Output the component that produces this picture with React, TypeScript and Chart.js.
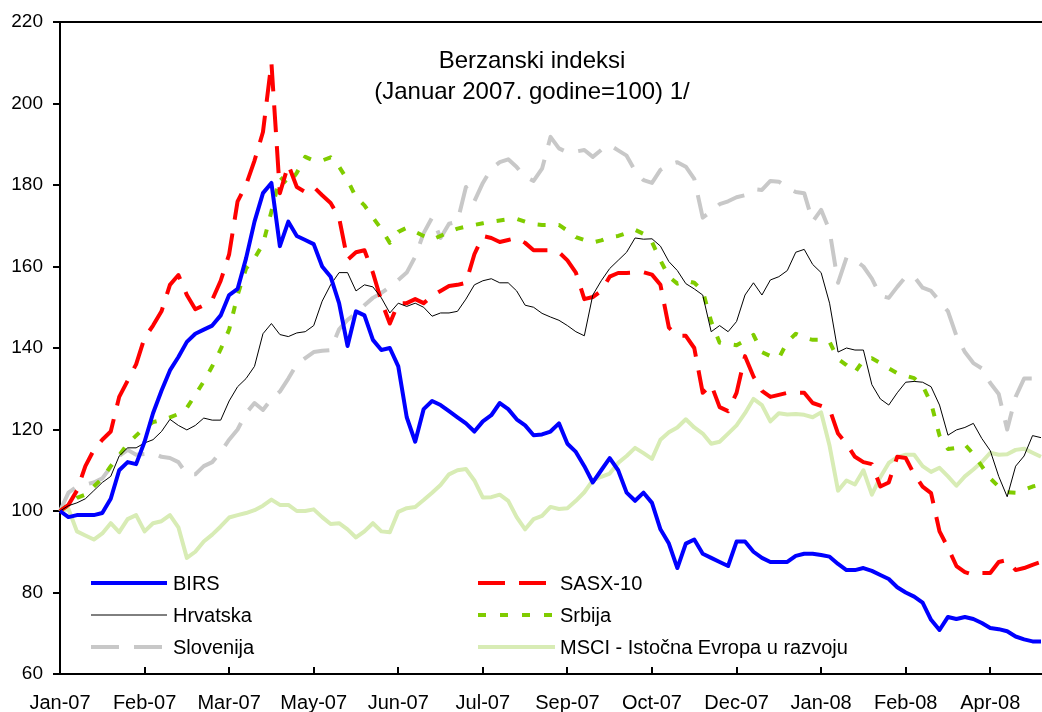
import React, { useEffect, useRef } from 'react';
import { Chart, registerables } from 'chart.js';

Chart.register(...registerables);

const tickLabels = ['Jan-07', 'Feb-07', 'Mar-07', 'May-07', 'Jun-07', 'Jul-07', 'Sep-07', 'Oct-07', 'Dec-07', 'Jan-08', 'Feb-08', 'Apr-08'];

const birs = [100, 98.5, 99, 99, 99, 99.5, 103, 110, 112, 111.5, 117, 124, 129.5, 134.5, 137.8, 141.5, 143.5, 144.5, 145.5, 148,
  153, 154.5, 162, 171, 178, 180.5, 165, 171, 167.5, 166.5, 165.5, 160, 157.5, 151, 140.5, 149, 148, 142, 139.5, 140,
  135.5, 123, 117, 125, 127, 126, 124.5, 123, 121.5, 119.5, 122, 123.5, 126.5, 125, 122.5, 121, 118.6, 118.8, 119.5, 121.5,
  116.5, 114.5, 111, 107, 110, 113, 110, 104.5, 102.5, 104.5, 102, 95.5, 92, 86, 92, 93, 89.5, 88.5, 87.5, 86.5,
  92.5, 92.5, 90, 88.5, 87.5, 87.5, 87.5, 89, 89.5, 89.5, 89.2, 88.8, 87, 85.5, 85.5, 86, 85.3, 84.3, 83.3, 81.3,
  80, 79, 77.5, 73.3, 70.8, 74, 73.5, 74, 73.5, 72.5, 71.3, 71, 70.5, 69.2, 68.5, 68, 68];

const sasx = [100, 101.5, 105, 111, 115, 117.5, 119.5, 128, 132, 136, 142.5, 145.5, 149, 155.5, 157.9, 153, 149.5, 150.5, 151.8, 156.5,
  163, 176, 180, 186, 193, 210, 178, 185, 179.5, 178.3, 179.5, 177.5, 175.6, 172, 161.6, 163.5, 164, 158.5, 151.5, 146,
  151, 151, 152, 151, 152.8, 154, 155.2, 155.5, 156, 163, 167.5, 167, 166, 166.5, 167, 165.8, 164, 164, 164, 163.5,
  161.5, 158.5, 152, 152.5, 154, 157.5, 158.4, 158.4, 158.5, 158.6, 158, 155.5, 145, 143, 143, 140, 129, 131, 125.5, 124.5,
  129, 138, 133, 129.5, 128, 128.5, 129, 129, 129, 126.5, 125.8, 125, 119, 116.5, 113.3, 112, 111.5, 106, 107, 113.3,
  113, 109, 106, 104.4, 95, 91, 86.5, 85, 84.3, 84.8, 84.8, 87.5, 88, 85.5, 86, 86.8, 87.5];

const hrvatska = [100, 101.3, 102, 103, 105, 107, 108.5, 113.5, 115.5, 115.5, 116.7, 117.5, 119.5, 122.5, 121, 119.9, 121, 122.8, 122.3, 122.3,
  127, 130.5, 132.5, 135.5, 143.5, 146, 143.3, 142.8, 143.7, 144, 145.5, 151.5, 155.5, 158.5, 158.5, 154, 155.5, 155, 152.3, 148.6,
  151, 150.2, 151, 150, 147.8, 148.6, 148.6, 149, 152, 155.5, 156.5, 157, 156, 156, 154, 150.5, 150, 148.5, 147.6, 146.8,
  145.5, 144, 143, 153, 156.5, 159.5, 161.5, 163.5, 167, 166.7, 166.8, 165, 161.2, 159, 155.8, 154.5, 153, 144, 145.5, 144,
  146.5, 153, 156, 153, 156.7, 157.5, 159, 163.5, 164.2, 160.5, 158.5, 151, 139, 140, 139.5, 139.5, 131, 127.5, 126, 129,
  131.6, 131.8, 131.6, 130.5, 126, 118.6, 119.9, 120.5, 121.5, 117.8, 114.8, 108.5, 103.5, 111, 113.5, 118.5, 118];

const srbija = [100, 101.5, 103.2, 104, 106, 108, 111, 113.7, 116.5, 118.5, 120.5, 121.8, 122.3, 123, 123.8, 125.3, 128.5, 131.8, 135.5, 139.7,
  144.5, 153, 159.5, 162, 165.5, 173.5, 182, 180, 183, 186.9, 186, 186, 186.8, 184.5, 181.2, 177, 175, 172, 169.2, 165.8,
  168.5, 169.5, 168.5, 167.5, 166.6, 167.5, 168.5, 169.3, 169.8, 170.2, 170.6, 171, 171.3, 171.6, 171.7, 171, 170.4, 170.2, 170.2, 170.2,
  168.8, 167.2, 166.5, 165.9, 166.4, 167.2, 167.5, 168.2, 169, 168, 166, 161.5, 157.5, 155.8, 156.5, 156, 154, 146.5, 141.3, 141,
  140.7, 141.8, 143.2, 139, 138, 137.5, 141.5, 143.5, 142.5, 142, 142, 141.5, 137.3, 135.8, 134, 137, 137.5, 136.3, 135, 133.8,
  133.2, 132.6, 130.8, 126.5, 118.5, 115.2, 115.5, 116.3, 114, 111, 108, 106, 104.6, 104.5, 105.2, 106, 106.5];

const slovenija = [100, 104.5, 106, 106.5, 107, 108, 110.8, 113.5, 115, 113.8, 114, 114.2, 113.3, 113, 112, 109, 109, 111, 112, 114.5,
  117.5, 120, 124, 126.5, 124.8, 127.5, 129.3, 132.5, 136, 137.5, 139, 139.3, 139.5, 144.6, 146.9, 148.5, 150.5, 152.3, 153.5, 155,
  156.7, 158.5, 162.4, 168.2, 172, 167, 170.5, 171, 179.5, 176, 180.5, 184, 185.6, 186.3, 184.4, 182, 181, 184, 191.8, 189,
  188, 188.2, 188.6, 186.9, 188.6, 189.8, 188.5, 187.2, 183.5, 181.2, 180.5, 183.7, 185, 185.6, 184.5, 181.5, 172, 173.5, 175.3, 176,
  177, 177.5, 179, 178.8, 181, 180.8, 179.3, 178.3, 178, 171, 173.9, 168.8, 156, 162.2, 161.6, 160, 157, 152.8, 152.3, 155,
  157.5, 157.5, 154.8, 154, 151.5, 149, 143, 139, 136.3, 135, 131.4, 128.7, 120, 128, 132.5, 132.5, 133.5];

const msci = [100, 100.5, 95, 94, 93, 94.5, 97, 94.8, 98, 99, 95, 97, 97.5, 99, 96, 88.5, 90, 92.5, 94.2, 96.2,
  98.4, 99, 99.5, 100.2, 101.3, 102.8, 101.5, 101.5, 100, 100, 100.4, 98.5, 96.8, 97, 95.5, 93.5, 95, 97, 95, 94.8,
  99.8, 100.7, 101, 102.7, 104.5, 106.4, 109, 110, 110.3, 107.5, 103.3, 103.4, 104, 102.5, 98.5, 95.5, 98, 98.8, 101, 100.5,
  100.7, 102.5, 104.6, 107.5, 108.4, 109.2, 111.8, 113.5, 115.5, 114.2, 112.8, 117.5, 119.3, 120.5, 122.5, 120.5, 119, 116.5, 117, 119,
  121, 124, 127.5, 126, 122, 124, 123.7, 123.8, 123.6, 123, 124.2, 116, 105, 107.5, 106.5, 110, 104, 108.3, 111.8, 113.2,
  113.8, 113.8, 111, 109.6, 110.6, 108.5, 106.2, 108.5, 110.2, 112, 114.3, 113.8, 113.9, 115, 115.3, 114.3, 113.3];

const categories = birs.map((_, i) => (i % 10 === 0 && tickLabels[i / 10]) ? tickLabels[i / 10] : '');

const FONT = '"Liberation Sans", Arial, sans-serif';

type LegendItem = { label: string; color: string; width: number; dash: number[]; col: number; row: number };

const legendItems: LegendItem[] = [
  { label: 'BIRS', color: '#0000FF', width: 4, dash: [], col: 0, row: 0 },
  { label: 'Hrvatska', color: '#000000', width: 1, dash: [], col: 0, row: 1 },
  { label: 'Slovenija', color: '#C8C8C8', width: 4, dash: [28, 15], col: 0, row: 2 },
  { label: 'SASX-10', color: '#FF0000', width: 4, dash: [27, 14], col: 1, row: 0 },
  { label: 'Srbija', color: '#80CC00', width: 4, dash: [8, 14], col: 1, row: 1 },
  { label: 'MSCI - Istočna Evropa u razvoju', color: '#D8ECB5', width: 4, dash: [], col: 1, row: 2 },
];

const decorPlugin = {
  id: 'decor',
  afterDraw(chart: any) {
    const ctx = chart.ctx as CanvasRenderingContext2D;
    const area = chart.chartArea;
    const xScale = chart.scales.x;
    ctx.save();
    ctx.strokeStyle = '#000';
    ctx.lineWidth = 2;
    ctx.beginPath();
    ctx.moveTo(area.left - 1, area.top);
    ctx.lineTo(area.right + 2, area.top);
    ctx.stroke();
    for (let i = 1; i < categories.length; i++) {
      if (categories[i] === '') continue;
      const x = Math.round(xScale.getPixelForValue(i));
      ctx.beginPath();
      ctx.moveTo(x, area.bottom);
      ctx.lineTo(x, area.bottom - 7);
      ctx.stroke();
    }
    ctx.fillStyle = '#000';
    ctx.font = `24px ${FONT}`;
    ctx.textAlign = 'center';
    ctx.textBaseline = 'middle';
    ctx.fillText('Berzanski indeksi', 532, 61);
    ctx.fillText('(Januar 2007. godine=100) 1/', 532, 92);
    ctx.font = `20px ${FONT}`;
    ctx.textAlign = 'left';
    const cols = [{ x0: 91, x1: 167, tx: 173 }, { x0: 478, x1: 555, tx: 560 }];
    const rows = [583, 615, 647];
    for (const it of legendItems) {
      const c = cols[it.col];
      const y = rows[it.row];
      ctx.strokeStyle = it.color;
      ctx.lineWidth = it.width;
      ctx.setLineDash(it.dash);
      ctx.lineCap = 'butt';
      ctx.beginPath();
      ctx.moveTo(c.x0, y);
      ctx.lineTo(c.x1, y);
      ctx.stroke();
      ctx.setLineDash([]);
      ctx.fillStyle = '#000';
      ctx.fillText(it.label, c.tx, y + 1);
    }
    ctx.restore();
  },
};

export default function App() {
  const ref = useRef<HTMLCanvasElement | null>(null);
  useEffect(() => {
    if (!ref.current) return;
    const mk = (data: number[], color: string, width: number, dash: number[]) => ({
      data,
      borderColor: color,
      backgroundColor: color,
      borderWidth: width,
      borderDash: dash,
      pointRadius: 0,
      pointHoverRadius: 0,
      tension: 0,
      fill: false,
      borderCapStyle: 'butt' as const,
      borderJoinStyle: 'round' as const,
    });
    const chart = new Chart(ref.current, {
      type: 'line',
      data: {
        labels: categories,
        datasets: [
          { label: 'BIRS', ...mk(birs, '#0000FF', 4, []) },
          { label: 'Hrvatska', ...mk(hrvatska, '#000000', 1, []) },
          { label: 'SASX-10', ...mk(sasx, '#FF0000', 4, [27, 14]) },
          { label: 'Srbija', ...mk(srbija, '#80CC00', 4, [8, 13]) },
          { label: 'Slovenija', ...mk(slovenija, '#C8C8C8', 4, [28, 15]) },
          { label: 'MSCI - Istočna Evropa u razvoju', ...mk(msci, '#D8ECB5', 4, []) },
        ],
      },
      options: {
        responsive: false,
        animation: false,
        devicePixelRatio: 1,
        layout: { padding: { left: 0, right: 1, top: 22, bottom: 0 } },
        plugins: {
          legend: { display: false },
          title: { display: false },
          tooltip: { enabled: false },
        },
        scales: {
          x: {
            type: 'category',
            grid: { display: false, drawTicks: false },
            border: { display: true, color: '#000', width: 2 },
            ticks: {
              autoSkip: false,
              maxRotation: 0,
              minRotation: 0,
              padding: 17,
              color: '#000',
              font: { family: FONT, size: 20 },
            },
            afterFit: (s: any) => { s.height = 38; s.paddingRight = 0; s.paddingLeft = 0; },
          },
          y: {
            min: 60,
            max: 220,
            grid: { display: true, drawOnChartArea: false, drawTicks: true, tickLength: 7, color: '#000', lineWidth: 2 },
            border: { display: true, color: '#000', width: 2 },
            ticks: {
              stepSize: 20,
              padding: 10,
              color: '#000',
              font: { family: FONT, size: 19 },
            },
            afterFit: (s: any) => { s.width = 60; },
          },
        },
      },
      plugins: [decorPlugin],
    });
    return () => chart.destroy();
  }, []);
  return (
    <div style={{ position: 'absolute', left: 0, top: 0, width: 1042, height: 712, background: '#fff' }}>
      <canvas ref={ref} width={1042} height={712} style={{ display: 'block' }} />
    </div>
  );
}
